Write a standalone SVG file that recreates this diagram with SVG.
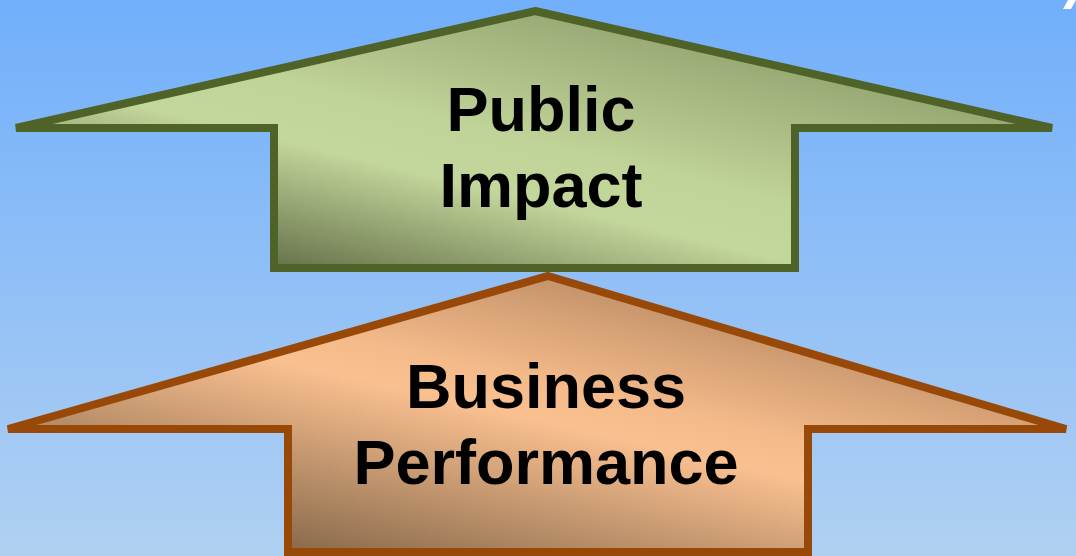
<svg xmlns="http://www.w3.org/2000/svg" width="1076" height="556" viewBox="0 0 1076 556">
  <defs>
    <linearGradient id="bg" x1="0" y1="0" x2="0" y2="1">
      <stop offset="0" stop-color="#71AFFB"/>
      <stop offset="1" stop-color="#B0D0F2"/>
    </linearGradient>
    <linearGradient id="gGreen" gradientUnits="userSpaceOnUse" x1="435" y1="309" x2="512" y2="-12">
      <stop offset="0" stop-color="#646F48"/>
      <stop offset="0.39" stop-color="#C3D69B"/>
      <stop offset="0.56" stop-color="#C0D398"/>
      <stop offset="1" stop-color="#95A571"/>
    </linearGradient>
    <linearGradient id="gOrange" gradientUnits="userSpaceOnUse" x1="507" y1="605" x2="580" y2="283">
      <stop offset="0" stop-color="#86684A"/>
      <stop offset="0.57" stop-color="#FAC090"/>
      <stop offset="0.68" stop-color="#F4BA8A"/>
      <stop offset="1" stop-color="#C4936A"/>
    </linearGradient>
    <style>
      .lbl { font-family: "Liberation Sans", Arial, sans-serif; font-weight: bold; font-size: 63px; fill: #000; text-anchor: middle; }
      .green { fill: url(#gGreen); stroke: #4F6228; stroke-width: 8; stroke-linejoin: miter; }
      .orange { fill: url(#gOrange); stroke: #984807; stroke-width: 8; stroke-linejoin: miter; }
    </style>
  </defs>
  <rect x="0" y="0" width="1076" height="556" fill="url(#bg)"/>
  <polygon points="1068,0 1076,0 1071,9 1063,9" fill="#FFFFFF"/>
  <g id="business-performance">
    <polygon class="orange" points="548,276 1066,429 808,429 808,552 288,552 288,429 8,429"/>
    <text class="lbl" x="546" y="408">Business</text>
    <text class="lbl" x="546" y="484">Performance</text>
  </g>
  <g id="public-impact">
    <polygon class="green" points="535,11 1052,128 795,128 795,268 274,268 274,128 16,128"/>
    <text class="lbl" x="541" y="131">Public</text>
    <text class="lbl" x="541" y="207">Impact</text>
  </g>
  <g id="connectors"></g>
</svg>
